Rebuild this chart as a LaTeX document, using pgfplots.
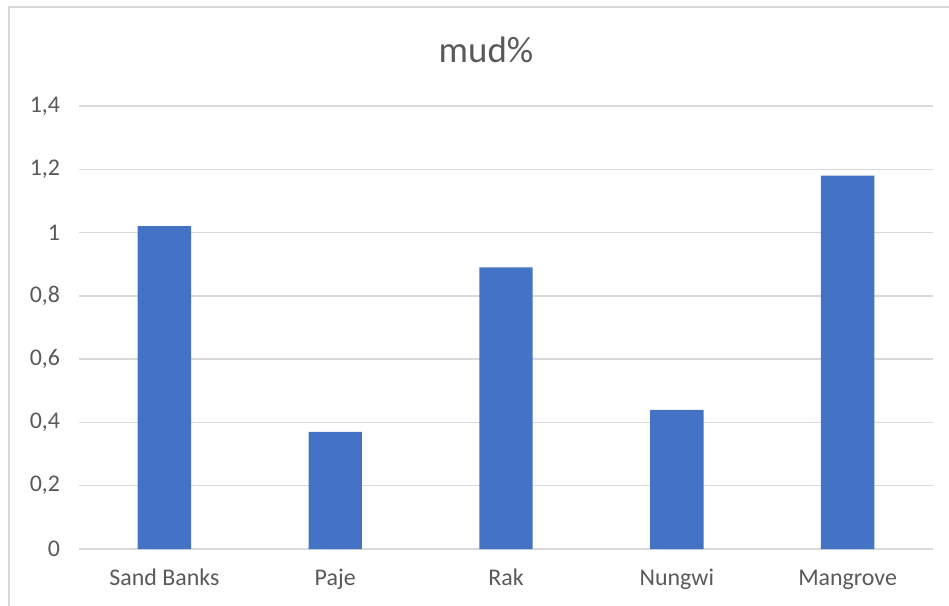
\documentclass[border=0pt]{standalone}
\usepackage{fontspec}
\setmainfont{Carlito}
\usepackage{pgfplots}
\pgfplotsset{compat=1.18}
\definecolor{barblue}{HTML}{4472C4}
\definecolor{gridgray}{HTML}{D9D9D9}
\definecolor{txtgray}{HTML}{595959}
\begin{document}
\begin{tikzpicture}
\useasboundingbox (0,0) rectangle (474.5bp,303bp);
\draw[gridgray, line width=0.6pt] (4.5bp,-1bp) -- (4.5bp,299.5bp) -- (476bp,299.5bp);
\node[anchor=base, text=txtgray, font=\fontsize{18.5}{22}\selectfont] at (243bp,271.5bp) {mud\%};
\begin{axis}[
  at={(39.5bp,28.5bp)}, anchor=south west,
  scale only axis, width=427bp, height=221.5bp,
  xmin=-0.5, xmax=4.5, ymin=0, ymax=1.4,
  ybar, bar width=26.7bp,
  xtick=data,
  xticklabels={Sand Banks, Paje, Rak, Nungwi, Mangrove},
  ytick={0,0.2,0.4,0.6,0.8,1,1.2,1.4},
  yticklabel style={/pgf/number format/.cd, use comma, fixed, assume math mode=true},
  ticklabel style={text=txtgray, font=\fontsize{12}{14}\selectfont},
  xticklabel style={text height=0.7em, text depth=0.22em},
  axis line style={draw=none},
  major tick length=0pt,
  ymajorgrids, grid style={gridgray, line width=0.65pt},
  xticklabel shift=8bp,
  yticklabel shift=6bp,
  clip=false,
]
\addplot[fill=barblue, draw=none] coordinates {(0,1.02) (1,0.37) (2,0.89) (3,0.44) (4,1.18)};
\end{axis}
\end{tikzpicture}
\end{document}
